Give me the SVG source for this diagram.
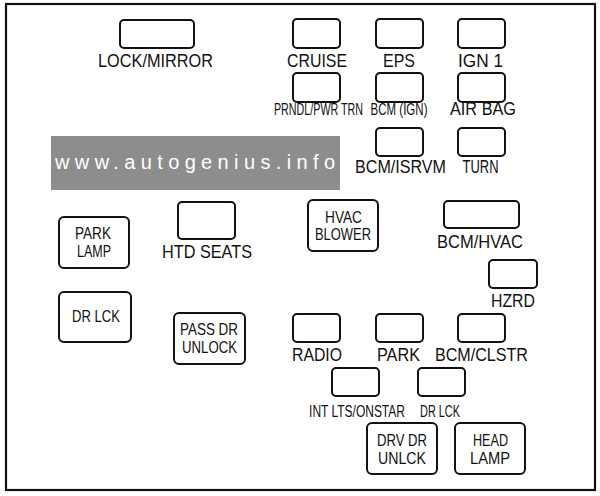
<svg xmlns="http://www.w3.org/2000/svg" width="600" height="496" viewBox="0 0 600 496">
<style>
.f{fill:#fff;stroke:#111;stroke-width:2}
.t{font-family:"Liberation Sans",Arial,sans-serif;font-size:18px;fill:#111;text-anchor:middle}
.s{font-size:16px}
.r{font-size:17px}
.h{font-size:16px}
.wm{font-family:"Liberation Sans",Arial,sans-serif;font-size:20px;fill:#fff}
</style>
<rect x="0" y="0" width="600" height="496" fill="#fff"/>
<rect x="6" y="4" width="589" height="486" fill="none" stroke="#111" stroke-width="2.2"/>
<g id="connectors"></g>
<g id="lock-mirror"><rect class="f" x="120" y="20" width="74" height="28" rx="4"/><text class="t" x="155.5" y="67" textLength="115" lengthAdjust="spacingAndGlyphs">LOCK/MIRROR</text></g>
<g id="cruise"><rect class="f" x="293" y="19" width="47" height="29" rx="4"/><text class="t" x="317" y="67" textLength="60" lengthAdjust="spacingAndGlyphs">CRUISE</text></g>
<g id="eps"><rect class="f" x="376" y="19" width="47" height="29" rx="4"/><text class="t" x="399" y="67" textLength="32" lengthAdjust="spacingAndGlyphs">EPS</text></g>
<g id="ign1"><rect class="f" x="458" y="19" width="47" height="29" rx="4"/><text class="t" x="480.5" y="67" textLength="45" lengthAdjust="spacingAndGlyphs">IGN 1</text></g>
<g id="prndl"><rect class="f" x="293" y="73" width="47" height="29" rx="4"/><text class="t s" transform="translate(318.5,115) scale(0.67,1)">PRNDL/PWR TRN</text></g>
<g id="bcm-ign"><rect class="f" x="376" y="73" width="47" height="29" rx="4"/><text class="t s" transform="translate(399,115) scale(0.72,1)">BCM (IGN)</text></g>
<g id="air-bag"><rect class="f" x="458" y="73" width="47" height="29" rx="4"/><text class="t" x="483" y="115" textLength="66" lengthAdjust="spacingAndGlyphs">AIR BAG</text></g>
<g id="bcm-isrvm"><rect class="f" x="376" y="128" width="47" height="28" rx="4"/><text class="t" x="400.5" y="173" textLength="91" lengthAdjust="spacingAndGlyphs">BCM/ISRVM</text></g>
<g id="turn"><rect class="f" x="458" y="128" width="47" height="28" rx="4"/><text class="t" x="480.5" y="173" textLength="36" lengthAdjust="spacingAndGlyphs">TURN</text></g>
<g id="park-lamp"><rect class="f" x="59" y="217" width="70" height="51" rx="5"/><text class="t r" x="93" y="239" textLength="36" lengthAdjust="spacingAndGlyphs">PARK</text><text class="t r" x="94" y="257" textLength="34" lengthAdjust="spacingAndGlyphs">LAMP</text></g>
<g id="htd-seats"><rect class="f" x="178" y="202" width="57" height="37" rx="4"/><text class="t" x="207" y="258" textLength="90" lengthAdjust="spacingAndGlyphs">HTD SEATS</text></g>
<g id="hvac-blower"><rect class="f" x="308" y="200" width="70" height="51" rx="5"/><text class="t h" x="343.5" y="223" textLength="37" lengthAdjust="spacingAndGlyphs">HVAC</text><text class="t h" x="343" y="240" textLength="56" lengthAdjust="spacingAndGlyphs">BLOWER</text></g>
<g id="bcm-hvac"><rect class="f" x="444" y="201" width="75" height="27" rx="4"/><text class="t" x="480" y="248" textLength="86" lengthAdjust="spacingAndGlyphs">BCM/HVAC</text></g>
<g id="hzrd"><rect class="f" x="489" y="260" width="48" height="28" rx="4"/><text class="t" x="513" y="307" textLength="44" lengthAdjust="spacingAndGlyphs">HZRD</text></g>
<g id="dr-lck-relay"><rect class="f" x="59" y="292" width="72" height="50" rx="5"/><text class="t r" x="96" y="322" textLength="48" lengthAdjust="spacingAndGlyphs">DR LCK</text></g>
<g id="pass-dr-unlock"><rect class="f" x="174" y="313" width="71" height="51" rx="5"/><text class="t r" x="209" y="335" textLength="58" lengthAdjust="spacingAndGlyphs">PASS DR</text><text class="t r" x="209.5" y="353" textLength="55" lengthAdjust="spacingAndGlyphs">UNLOCK</text></g>
<g id="radio"><rect class="f" x="293" y="314" width="47" height="28" rx="4"/><text class="t" x="317" y="361" textLength="50" lengthAdjust="spacingAndGlyphs">RADIO</text></g>
<g id="park"><rect class="f" x="376" y="314" width="47" height="28" rx="4"/><text class="t" x="398.5" y="361" textLength="43" lengthAdjust="spacingAndGlyphs">PARK</text></g>
<g id="bcm-clstr"><rect class="f" x="458" y="314" width="47" height="28" rx="4"/><text class="t" x="481.5" y="361" textLength="93" lengthAdjust="spacingAndGlyphs">BCM/CLSTR</text></g>
<g id="int-lts"><rect class="f" x="332" y="368" width="47" height="28" rx="4"/><text class="t s" transform="translate(357,417) scale(0.75,1)">INT LTS/ONSTAR</text></g>
<g id="dr-lck-fuse"><rect class="f" x="418" y="368" width="47" height="28" rx="4"/><text class="t s" transform="translate(440,417) scale(0.68,1)">DR LCK</text></g>
<g id="drv-dr-unlck"><rect class="f" x="367" y="423" width="70" height="51" rx="5"/><text class="t r" x="402" y="446" textLength="50" lengthAdjust="spacingAndGlyphs">DRV DR</text><text class="t r" x="402" y="464" textLength="48" lengthAdjust="spacingAndGlyphs">UNLCK</text></g>
<g id="head-lamp"><rect class="f" x="455" y="423" width="70" height="51" rx="5"/><text class="t r" x="490.5" y="446" textLength="35" lengthAdjust="spacingAndGlyphs">HEAD</text><text class="t r" x="490" y="464" textLength="40" lengthAdjust="spacingAndGlyphs">LAMP</text></g>
<g id="watermark"><rect x="51" y="136" width="289" height="54" fill="#8d8d8d"/><text class="wm" x="55" y="169" textLength="280" lengthAdjust="spacing">www.autogenius.info</text></g>
</svg>
